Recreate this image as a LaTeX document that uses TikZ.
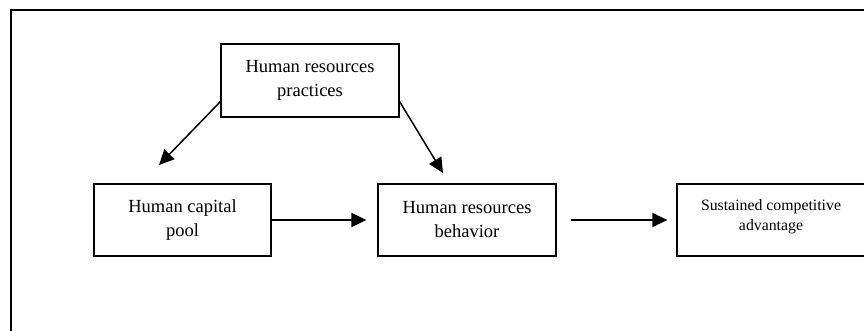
\documentclass[tikz,border=0pt]{standalone}
\usepackage{fontspec}
\setmainfont{Liberation Serif}
\usetikzlibrary{arrows.meta}
\begin{document}
\begin{tikzpicture}[x=1pt,y=-1pt,
  box/.style={draw,line width=1.3pt,align=center,inner sep=0pt},
  bigtext/.style={font=\fontsize{18.5}{24}\selectfont},
  smalltext/.style={font=\fontsize{15.8}{20}\selectfont},
  arr/.style={line width=1.5pt,-{Triangle[length=15pt,width=14pt]}}]
\useasboundingbox (0,0) rectangle (864,331);
\clip (0,0) rectangle (864,331);
\draw[line width=1.3pt] (11,10) rectangle (900,400);
\node[box,bigtext,minimum width=178pt,minimum height=73pt] (hrp) at (310,80.5) {Human resources\\practices};
\node[box,bigtext,minimum width=177pt,minimum height=72pt] (hcp) at (182.5,220) {Human capital\\pool};
\node[box,bigtext,minimum width=178pt,minimum height=72pt] (hrb) at (467,220) {Human resources\\behavior};
\node[box,minimum width=190pt,minimum height=72pt] (sca) at (772,220) {};
\node[smalltext,align=center,inner sep=0pt] (scat) at (771,217) {Sustained competitive\\advantage};
\coordinate (t1) at (159,165);
\coordinate (t2) at (443,173);
\draw[arr] ([yshift=16pt]hrp.south west) -- (t1);
\draw[arr] ([yshift=16pt]hrp.south east) -- (t2);
\draw[arr] (hcp.east) -- ([xshift=-11pt]hrb.west);
\draw[arr] ([xshift=14pt]hrb.east) -- ([xshift=-9pt]sca.west);
\end{tikzpicture}
\end{document}
